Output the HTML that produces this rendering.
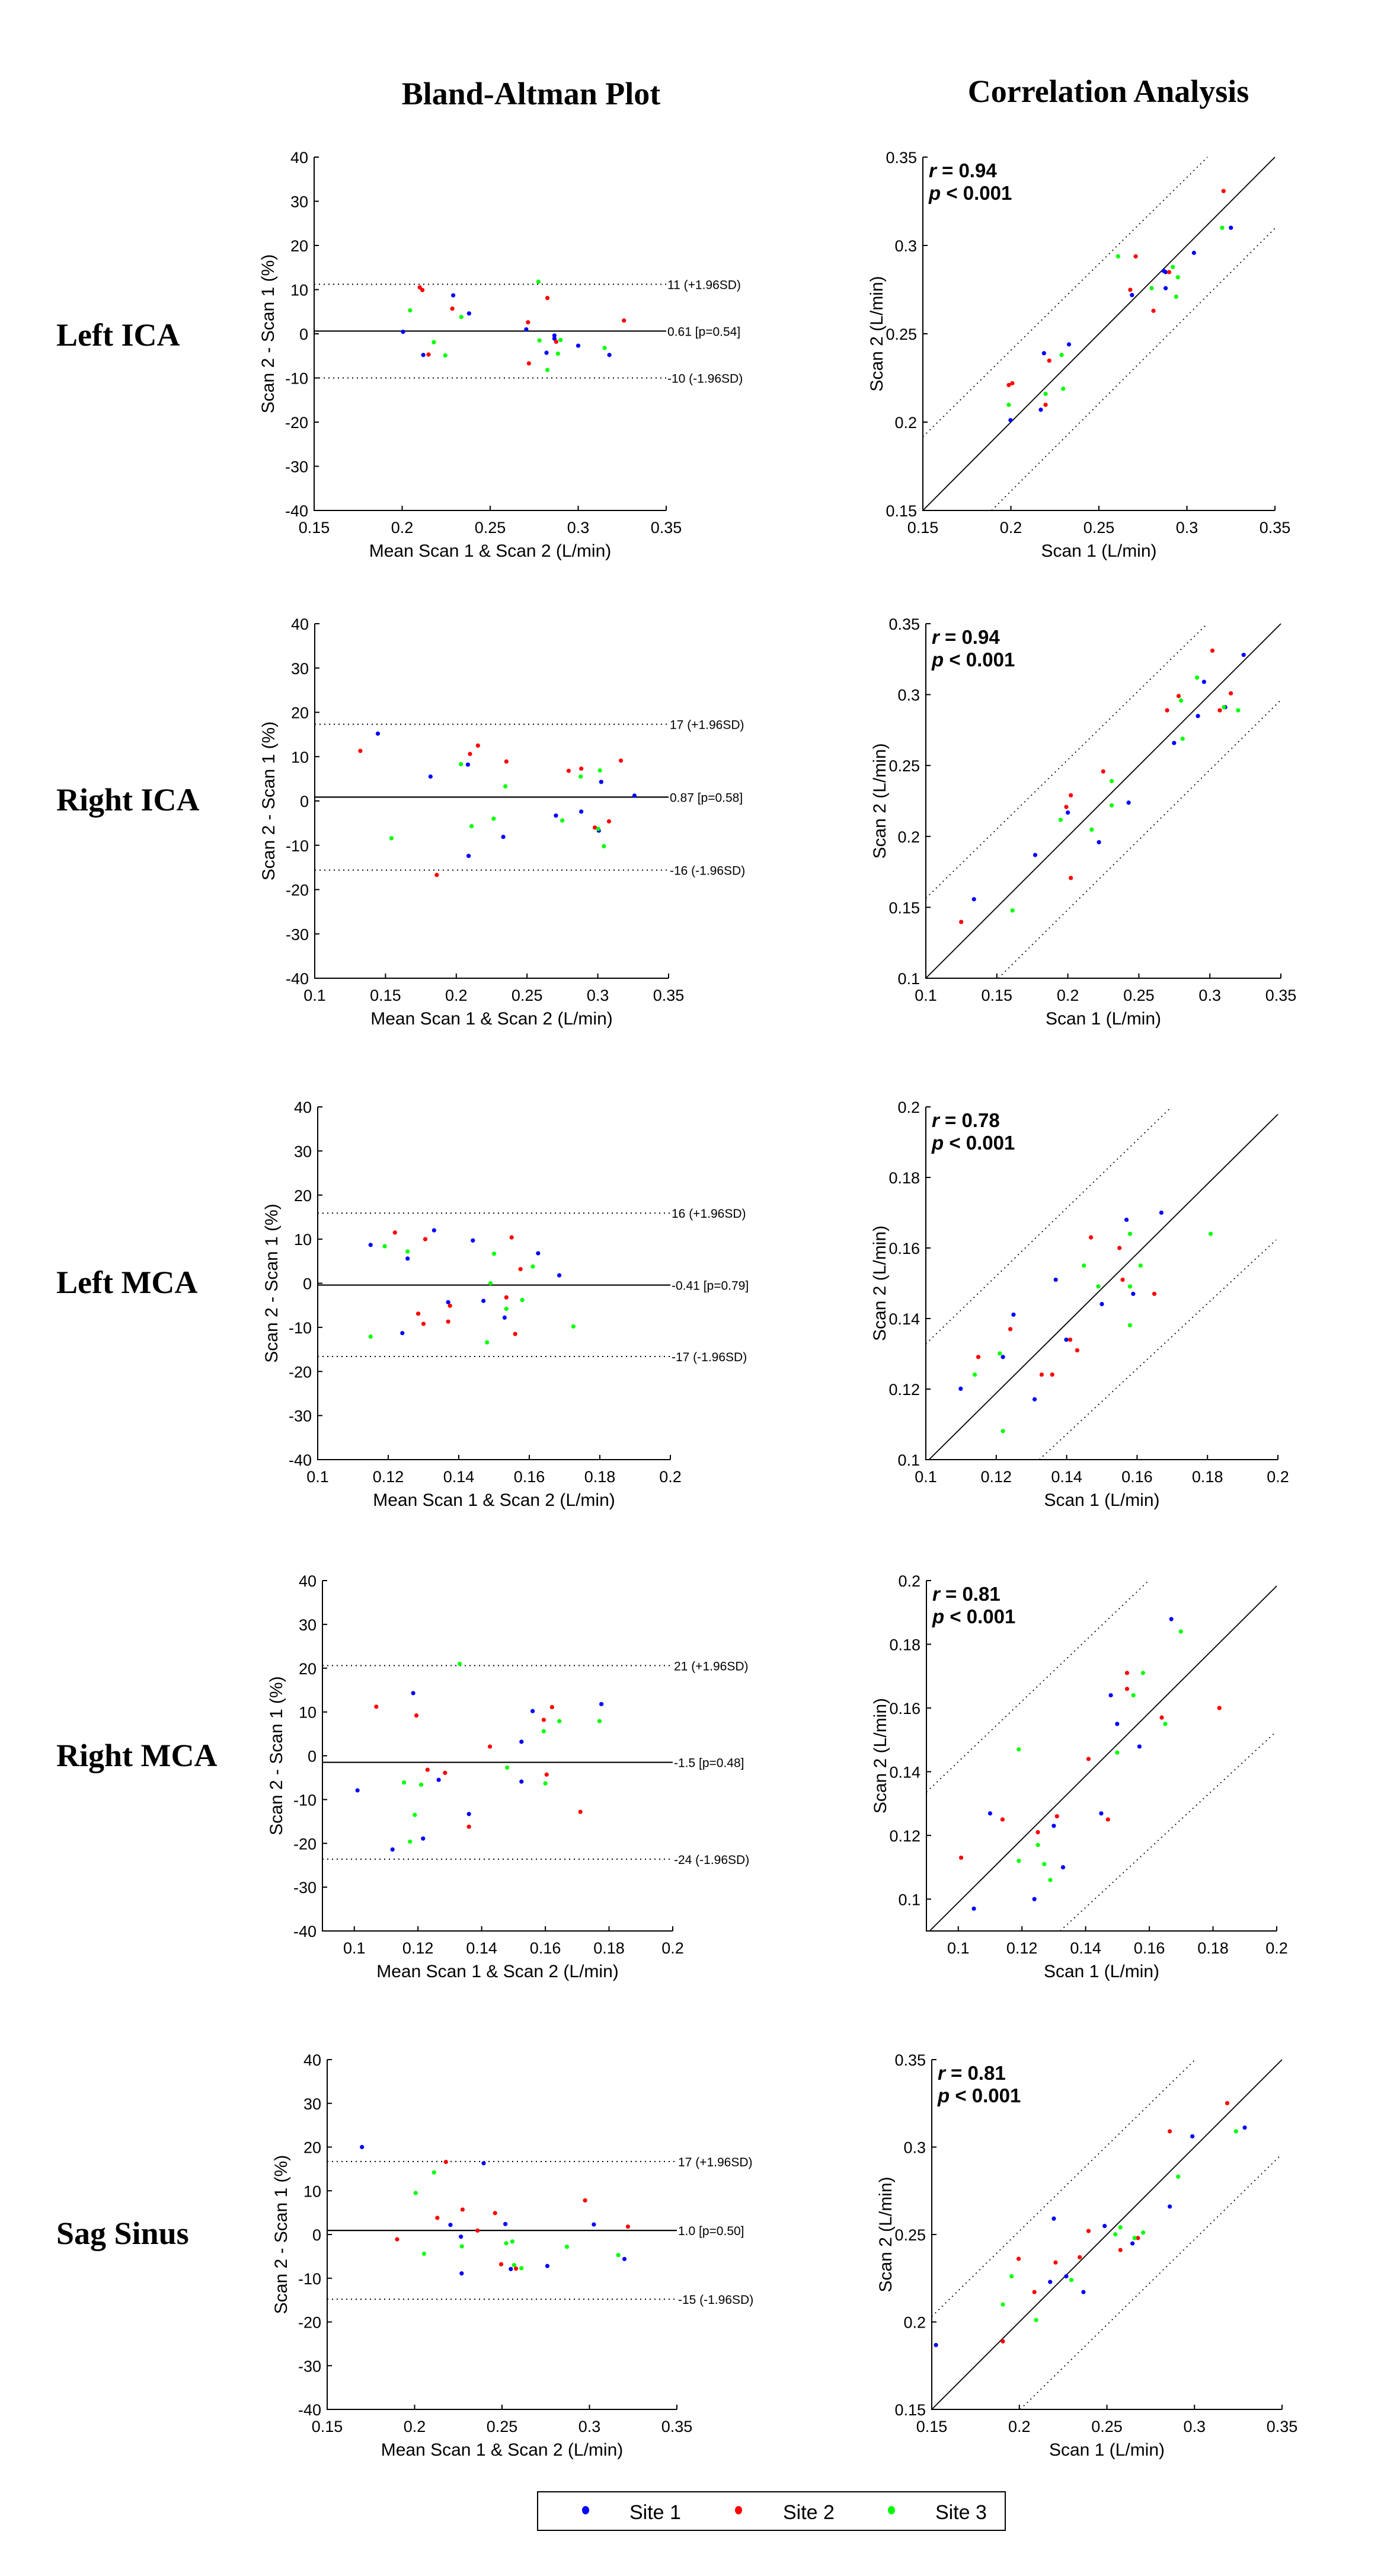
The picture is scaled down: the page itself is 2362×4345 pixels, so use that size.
<!DOCTYPE html>
<html>
<head>
<meta charset="utf-8">
<style>
  html,body{margin:0;padding:0;background:#fff;}
  svg{display:block;}
  .tick{font-family:"Liberation Sans",sans-serif;font-size:27px;fill:#000;}
  .atitle{font-family:"Liberation Sans",sans-serif;font-size:30px;fill:#000;}
  .ann{font-family:"Liberation Sans",sans-serif;font-size:21px;fill:#000;}
  .stat{font-family:"Liberation Sans",sans-serif;font-size:33px;font-weight:bold;fill:#000;}
  .head{font-family:"Liberation Serif",serif;font-size:54px;font-weight:bold;fill:#000;}
  .leg{font-family:"Liberation Sans",sans-serif;font-size:34px;fill:#000;}
</style>
</head>
<body>
<svg id="fig" width="2362" height="4345" viewBox="0 0 2362 4345" xmlns="http://www.w3.org/2000/svg">
  <text class="head" x="896" y="176" text-anchor="middle">Bland-Altman Plot</text>
  <text class="head" x="1870" y="172" text-anchor="middle">Correlation Analysis</text>
  <text class="head" x="95" y="583">Left ICA</text>
  <text class="head" x="95" y="1367">Right ICA</text>
  <text class="head" x="95" y="2181">Left MCA</text>
  <text class="head" x="95" y="2979">Right MCA</text>
  <text class="head" x="95" y="3785">Sag Sinus</text>
  <g>
    <rect x="907" y="4203" width="789" height="65" fill="#fff" stroke="#000" stroke-width="2"/>
    <ellipse cx="988" cy="4234" rx="6" ry="7" fill="#0000ff"/>
    <text class="leg" x="1062" y="4249">Site 1</text>
    <ellipse cx="1246" cy="4234" rx="6" ry="7" fill="#ff0000"/>
    <text class="leg" x="1321" y="4249">Site 2</text>
    <ellipse cx="1504" cy="4234" rx="6" ry="7" fill="#00ff00"/>
    <text class="leg" x="1578" y="4249">Site 3</text>
  </g>
</svg>
<script>
// ---------- DATA ----------
const siteNames = ["Site 1","Site 2","Site 3"];
// Row 1: Left ICA
const baLICA_site1 = [[0.2005,0.45],[0.212,-4.8],[0.229,8.7],[0.238,4.6],[0.2705,1.0],[0.2865,-0.4],[0.2865,-1.1],[0.282,-4.3],[0.300,-2.7],[0.3177,-4.8]];
const baLICA_site2 = [[0.210,10.5],[0.2115,9.9],[0.215,-4.7],[0.2285,5.7],[0.2715,2.6],[0.2825,8.1],[0.2875,-1.8],[0.272,-6.7],[0.326,3.0]];
const baLICA_site3 = [[0.2045,5.3],[0.218,-1.9],[0.2245,-4.9],[0.2336,3.8],[0.2774,11.8],[0.278,-1.5],[0.290,-1.4],[0.2885,-4.5],[0.2825,-8.2],[0.315,-3.2]];
const baLICA_lines = [0.61, 11.2, -10.0];
const baLICA_labels = ["0.61 [p=0.54]","11 (+1.96SD)","-10 (-1.96SD)"];
const coLICA_site1 = [[0.1998,0.2011],[0.217,0.207],[0.2188,0.239],[0.233,0.244],[0.2688,0.2719],[0.2868,0.2856],[0.2879,0.2849],[0.2879,0.2758],[0.304,0.2958],[0.325,0.31]];
const coLICA_site2 = [[0.1988,0.221],[0.2008,0.222],[0.2218,0.2348],[0.2197,0.2098],[0.2678,0.2749],[0.2709,0.2938],[0.2899,0.2849],[0.281,0.263],[0.3208,0.3308]];
const coLICA_site3 = [[0.1988,0.2098],[0.2197,0.216],[0.2288,0.238],[0.2297,0.2189],[0.2609,0.2938],[0.28,0.2758],[0.292,0.2878],[0.2949,0.282],[0.2939,0.271],[0.32,0.31]];
const coLICA_fit = [[0.15,0.15,0.35,0.35],[0.15,0.1917,0.3117,0.35],[0.189,0.15,0.3503,0.31]];
const coLICA_stats = ["0.94","< 0.001"];
// Row 2: Right ICA
const baRICA_site1 = [[0.1446,15.2],[0.1818,5.5],[0.2082,8.2],[0.2087,-12.4],[0.2332,-8.1],[0.2704,-3.3],[0.2883,-2.4],[0.3024,4.3],[0.3007,-6.7],[0.3259,1.2]];
const baRICA_site2 = [[0.1322,11.3],[0.1862,-16.7],[0.2097,10.6],[0.2153,12.5],[0.2354,8.9],[0.2794,6.8],[0.2883,7.3],[0.2979,-6.0],[0.3079,-4.6],[0.3163,9.1]];
const baRICA_site3 = [[0.1542,-8.4],[0.2033,8.3],[0.2108,-5.7],[0.2264,-4.0],[0.2347,3.3],[0.2749,-4.4],[0.2879,5.5],[0.3015,6.9],[0.3003,-6.3],[0.3043,-10.2]];
const baRICA_lines = [0.87, 17.3, -15.6];
const baRICA_labels = ["0.87 [p=0.58]","17 (+1.96SD)","-16 (-1.96SD)"];
const coRICA_site1 = [[0.1339,0.1557],[0.177,0.1869],[0.2,0.2168],[0.2219,0.1959],[0.2428,0.2238],[0.2748,0.2659],[0.2916,0.2849],[0.2959,0.309],[0.3108,0.2911],[0.3238,0.328]];
const coRICA_site2 = [[0.1249,0.1397],[0.1989,0.2208],[0.2021,0.229],[0.2021,0.1707],[0.2249,0.2458],[0.2699,0.2889],[0.278,0.299],[0.3018,0.331],[0.307,0.2889],[0.3148,0.3009]];
const coRICA_site3 = [[0.161,0.1478],[0.1949,0.2117],[0.2168,0.2048],[0.2309,0.239],[0.2309,0.2219],[0.2797,0.2958],[0.2808,0.2689],[0.291,0.312],[0.3099,0.2911],[0.3199,0.2889]];
const coRICA_fit = [[0.1,0.1,0.35,0.35],[0.1,0.1564,0.2982,0.35],[0.151,0.1,0.35,0.2962]];
const coRICA_stats = ["0.94","< 0.001"];
// Row 3: Left MCA
const baLMCA_site1 = [[0.115,8.7],[0.1255,5.6],[0.133,12.0],[0.124,-11.3],[0.137,-4.3],[0.144,9.7],[0.147,-4.0],[0.153,-7.8],[0.1625,6.8],[0.1685,1.8]];
const baLMCA_site2 = [[0.1219,11.5],[0.1305,10.0],[0.1285,-6.9],[0.130,-9.2],[0.137,-8.7],[0.1375,-5.1],[0.155,10.4],[0.1575,3.2],[0.1535,-3.2],[0.156,-11.5]];
const baLMCA_site3 = [[0.115,-12.1],[0.119,8.4],[0.1255,7.2],[0.149,0.0],[0.150,6.7],[0.1535,-5.8],[0.158,-3.8],[0.161,3.8],[0.148,-13.4],[0.1725,-9.8]];
const baLMCA_lines = [-0.41, 15.9, -16.6];
const baLMCA_labels = ["-0.41 [p=0.79]","16 (+1.96SD)","-17 (-1.96SD)"];
const coLMCA_site1 = [[0.1099,0.1201],[0.1219,0.1291],[0.1249,0.1411],[0.1309,0.1171],[0.1369,0.151],[0.1399,0.134],[0.15,0.1441],[0.157,0.168],[0.1589,0.147],[0.1669,0.17]];
const coLMCA_site2 = [[0.1149,0.1291],[0.124,0.137],[0.1329,0.1241],[0.1359,0.1241],[0.141,0.134],[0.143,0.131],[0.1469,0.163],[0.155,0.16],[0.1559,0.151],[0.1649,0.147]];
const coLMCA_site3 = [[0.1139,0.1241],[0.121,0.1301],[0.1219,0.1081],[0.1449,0.155],[0.149,0.1491],[0.158,0.164],[0.158,0.1491],[0.158,0.1381],[0.161,0.155],[0.1809,0.164]];
const coLMCA_fit = [[0.1009,0.1,0.2,0.1979],[0.1,0.1328,0.1698,0.2],[0.1322,0.1,0.1995,0.1623]];
const coLMCA_stats = ["0.78","< 0.001"];
// Row 4: Right MCA
const baRMCA_site1 = [[0.101,-7.9],[0.112,-21.4],[0.1185,14.3],[0.1216,-18.9],[0.1265,-5.5],[0.136,-13.3],[0.1525,3.2],[0.1525,-5.9],[0.156,10.2],[0.1776,11.8]];
const baRMCA_site2 = [[0.1069,11.2],[0.1195,9.2],[0.123,-3.2],[0.1285,-3.9],[0.136,-16.2],[0.1426,2.1],[0.1595,8.2],[0.1621,11.1],[0.1604,-4.3],[0.171,-12.8]];
const baRMCA_site3 = [[0.1156,-6.1],[0.121,-6.6],[0.119,-13.5],[0.1175,-19.6],[0.1331,21.0],[0.148,-2.7],[0.1595,5.6],[0.16,-6.3],[0.1644,7.9],[0.177,7.9]];
const baRMCA_lines = [-1.5, 20.6, -23.6];
const baRMCA_labels = ["-1.5 [p=0.48]","21 (+1.96SD)","-24 (-1.96SD)"];
const coRMCA_site1 = [[0.1049,0.097],[0.11,0.1269],[0.1239,0.1],[0.13,0.123],[0.1329,0.11],[0.1449,0.1269],[0.1479,0.164],[0.1499,0.155],[0.1569,0.1479],[0.1669,0.1879]];
const coRMCA_site2 = [[0.1009,0.113],[0.1139,0.125],[0.125,0.121],[0.131,0.126],[0.1409,0.144],[0.147,0.125],[0.153,0.171],[0.153,0.166],[0.1639,0.157],[0.182,0.16]];
const coRMCA_site3 = [[0.119,0.147],[0.119,0.112],[0.125,0.117],[0.127,0.111],[0.1289,0.106],[0.1499,0.146],[0.155,0.164],[0.158,0.171],[0.165,0.155],[0.1699,0.184]];
const coRMCA_fit = [[0.091,0.09,0.2,0.1983],[0.09,0.1336,0.1598,0.2],[0.132,0.09,0.1992,0.152]];
const coRMCA_stats = ["0.81","< 0.001"];
// Row 5: Sag Sinus
const baSS_site1 = [[0.1699,20.0],[0.2205,2.2],[0.2265,-0.5],[0.2269,-8.9],[0.2395,16.3],[0.2519,2.4],[0.255,-7.9],[0.2759,-7.2],[0.3025,2.3],[0.32,-5.6]];
const baSS_site2 = [[0.19,-1.1],[0.213,3.8],[0.2179,16.6],[0.2274,5.7],[0.236,0.9],[0.246,4.9],[0.2495,-6.8],[0.258,-7.8],[0.2975,7.8],[0.322,1.8]];
const baSS_site3 = [[0.2006,9.5],[0.2054,-4.4],[0.2111,14.2],[0.227,-2.7],[0.2524,-2.0],[0.2559,-1.6],[0.2569,-7.0],[0.2611,-7.7],[0.2871,-2.8],[0.3165,-4.7]];
const baSS_lines = [0.93, 16.7, -14.8];
const baSS_labels = ["1.0 [p=0.50]","17 (+1.96SD)","-15 (-1.96SD)"];
const coSS_site1 = [[0.1524,0.1868],[0.2176,0.2229],[0.2197,0.2591],[0.2268,0.2261],[0.2366,0.2171],[0.2487,0.2549],[0.2646,0.2449],[0.2859,0.266],[0.2988,0.3061],[0.3287,0.3111]];
const coSS_site2 = [[0.1906,0.1889],[0.1996,0.2361],[0.2086,0.2171],[0.2207,0.234],[0.2345,0.237],[0.2395,0.252],[0.2577,0.2411],[0.2677,0.248],[0.2859,0.309],[0.3187,0.3251]];
const coSS_site3 = [[0.1906,0.21],[0.1956,0.2261],[0.2096,0.2011],[0.2297,0.224],[0.2548,0.2501],[0.2577,0.2541],[0.2658,0.248],[0.2707,0.2511],[0.2907,0.2831],[0.3237,0.309]];
const coSS_fit = [[0.15,0.15,0.35,0.35],[0.15,0.2031,0.3004,0.35],[0.2005,0.15,0.3491,0.2952]];
const coSS_stats = ["0.81","< 0.001"];
// tick labels
const baYTicks = ["-40","-30","-20","-10","0","10","20","30","40"];
const ticksA = ["0.15","0.2","0.25","0.3","0.35"];
const ticksB = ["0.1","0.15","0.2","0.25","0.3","0.35"];
const ticksC = ["0.1","0.12","0.14","0.16","0.18","0.2"];
// ---------- LAYOUT ----------
const colors = ["#0000ff","#ff0000","#00ff00"];
const rows = [
  {key:"left-ica", ba:{l:530,r:1124,t:265,b:861,x0:0.15,x1:0.35,xt:ticksA,s:[baLICA_site1,baLICA_site2,baLICA_site3],ln:baLICA_lines,lb:baLICA_labels},
   co:{l:1557,r:2151,t:265,b:861,v0:0.15,v1:0.35,xt:ticksA,s:[coLICA_site1,coLICA_site2,coLICA_site3],fit:coLICA_fit,st:coLICA_stats}},
  {key:"right-ica", ba:{l:531,r:1128,t:1052,b:1650,x0:0.1,x1:0.35,xt:ticksB,s:[baRICA_site1,baRICA_site2,baRICA_site3],ln:baRICA_lines,lb:baRICA_labels},
   co:{l:1562,r:2161,t:1052,b:1650,v0:0.1,v1:0.35,xt:ticksB,s:[coRICA_site1,coRICA_site2,coRICA_site3],fit:coRICA_fit,st:coRICA_stats}},
  {key:"left-mca", ba:{l:536,r:1131,t:1867,b:2462,x0:0.1,x1:0.2,xt:ticksC,s:[baLMCA_site1,baLMCA_site2,baLMCA_site3],ln:baLMCA_lines,lb:baLMCA_labels},
   co:{l:1562,r:2156,t:1867,b:2462,v0:0.1,v1:0.2,xt:ticksC,s:[coLMCA_site1,coLMCA_site2,coLMCA_site3],fit:coLMCA_fit,st:coLMCA_stats}},
  {key:"right-mca", ba:{l:544,r:1135,t:2666,b:3257,x0:0.09,x1:0.2,xt:ticksC,s:[baRMCA_site1,baRMCA_site2,baRMCA_site3],ln:baRMCA_lines,lb:baRMCA_labels},
   co:{l:1563,r:2154,t:2666,b:3257,v0:0.09,v1:0.2,xt:ticksC,s:[coRMCA_site1,coRMCA_site2,coRMCA_site3],fit:coRMCA_fit,st:coRMCA_stats}},
  {key:"sag-sinus", ba:{l:552,r:1142,t:3474,b:4064,x0:0.15,x1:0.35,xt:ticksA,s:[baSS_site1,baSS_site2,baSS_site3],ln:baSS_lines,lb:baSS_labels},
   co:{l:1572,r:2163,t:3474,b:4064,v0:0.15,v1:0.35,xt:ticksA,s:[coSS_site1,coSS_site2,coSS_site3],fit:coSS_fit,st:coSS_stats}}
];
const NS = "http://www.w3.org/2000/svg";
const svg = document.getElementById("fig");
function mk(tag, attrs, parent){
  const e = document.createElementNS(NS, tag);
  for (const k in attrs) e.setAttribute(k, attrs[k]);
  parent.appendChild(e);
  return e;
}
function axes(g, p, xs, ys, xt, yt, xTitle, yTitle, name){
  const ax = mk("path", {d:`M${p.l},${p.t}V${p.b}H${p.r}`, fill:"none", stroke:"#000", "stroke-width":2}, g);
  
  
  xt.forEach(t => {
    const x = xs(parseFloat(t));
    const tk = mk("line", {x1:x, x2:x, y1:p.b, y2:p.b-8, stroke:"#000", "stroke-width":2}, g);
    
    
    const tl = mk("text", {x:x, y:p.b+38, "text-anchor":"middle", class:"tick"}, g);
    tl.textContent = t;
    
    
  });
  yt.forEach(t => {
    const y = ys(parseFloat(t));
    const tk = mk("line", {x1:p.l, x2:p.l+8, y1:y, y2:y, stroke:"#000", "stroke-width":2}, g);
    
    
    const tl = mk("text", {x:p.l-10, y:y+10, "text-anchor":"end", class:"tick"}, g);
    tl.textContent = t;
    
    
  });
  const xtT = mk("text", {x:(p.l+p.r)/2, y:p.b+78, "text-anchor":"middle", class:"atitle"}, g);
  xtT.textContent = xTitle;
  
  
  const cy = (p.t+p.b)/2, cx = p.l - 68;
  const ytT = mk("text", {x:cx, y:cy, "text-anchor":"middle", class:"atitle", transform:`rotate(-90 ${cx} ${cy})`}, g);
  ytT.textContent = yTitle;
  
  
}
function dots(g, series, xs, ys){
  series.forEach((pts, si) => {
    pts.forEach(d => {
      const c = mk("circle", {cx:xs(d[0]), cy:ys(d[1]), r:3.6, fill:colors[si]}, g);
      
      
    });
  });
}
rows.forEach((row, ri) => {
  // Bland-Altman
  const b = row.ba;
  const gb = mk("g", {}, svg);
  
  
  const bxs = v => b.l + (v - b.x0) / (b.x1 - b.x0) * (b.r - b.l);
  const bys = v => b.b - (v + 40) / 80 * (b.b - b.t);
  b.ln.forEach((v, i) => {
    const y = bys(v);
    const ln = mk("line", {x1:b.l, x2:b.r, y1:y, y2:y, stroke:"#000", "stroke-width": i===0 ? 2.2 : 2, "stroke-dasharray": i===0 ? "none" : "2 6"}, gb);
    
    
    const t = mk("text", {x:b.r+2, y:y+8, class:"ann"}, gb);
    t.textContent = b.lb[i];
    
    
  });
  axes(gb, b, bxs, bys, b.xt, baYTicks, "Mean Scan 1 & Scan 2 (L/min)", "Scan 2 - Scan 1 (%)", 'bland-altman');
  dots(gb, b.s, bxs, bys);
  // Correlation
  const c = row.co;
  const gc = mk("g", {}, svg);
  
  
  const cxs = v => c.l + (v - c.v0) / (c.v1 - c.v0) * (c.r - c.l);
  const cys = v => c.b - (v - c.v0) / (c.v1 - c.v0) * (c.b - c.t);
  c.fit.forEach((f, i) => {
    const ln = mk("line", {x1:cxs(f[0]), y1:cys(f[1]), x2:cxs(f[2]), y2:cys(f[3]), stroke:"#000", "stroke-width": i===0 ? 1.8 : 1.8, "stroke-dasharray": i===0 ? "none" : "2 6"}, gc);
    
    
  });
  axes(gc, c, cxs, cys, c.xt, c.xt, "Scan 1 (L/min)", "Scan 2 (L/min)", 'correlation');
  dots(gc, c.s, cxs, cys);
  const r = mk("text", {x:c.l+10, y:c.t+34, class:"stat"}, gc);
  r.innerHTML = '<tspan font-style="italic">r</tspan> = ' + c.st[0];
  
  
  const p = mk("text", {x:c.l+10, y:c.t+72, class:"stat"}, gc);
  p.innerHTML = '<tspan font-style="italic">p</tspan> ' + c.st[1];
  
  
});
</script>
</body>
</html>
